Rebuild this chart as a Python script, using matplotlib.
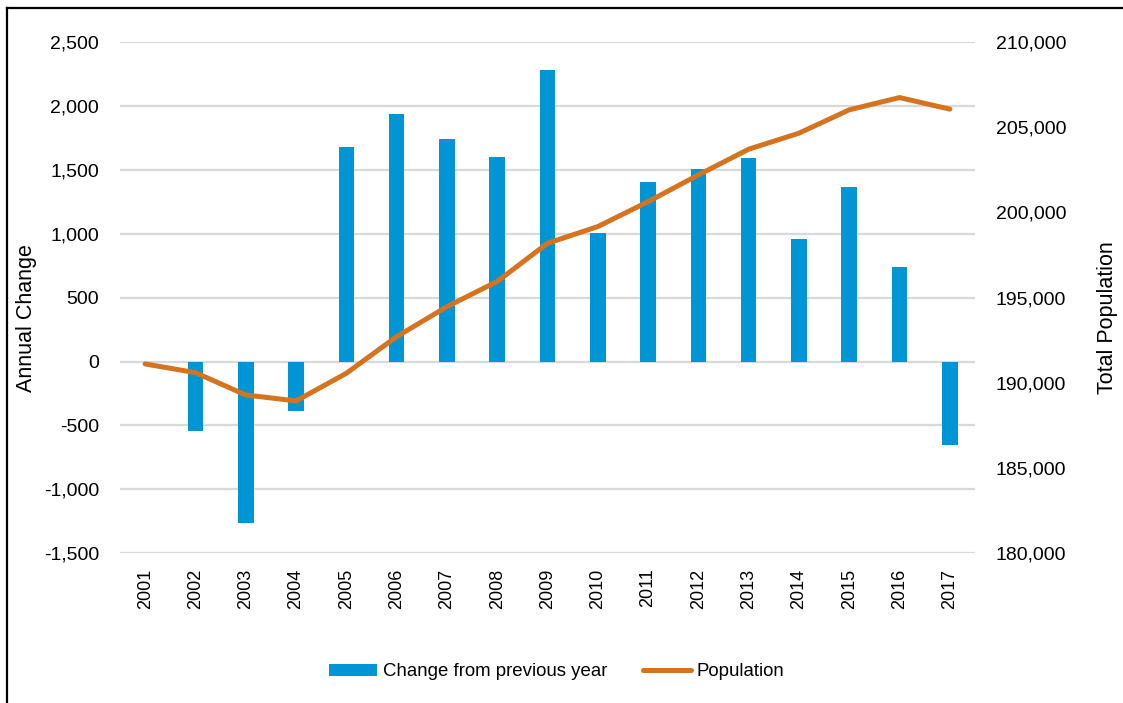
import matplotlib
matplotlib.use("Agg")
import matplotlib.pyplot as plt
from matplotlib.lines import Line2D
from matplotlib.ticker import FuncFormatter, MultipleLocator

plt.rcParams["font.family"] = ["Liberation Sans", "DejaVu Sans"]

# Data
years = ["2001", "2002", "2003", "2004", "2005", "2006", "2007", "2008", "2009",
         "2010", "2011", "2012", "2013", "2014", "2015", "2016", "2017"]
annual_change = [0, -540, -1260, -386, 1680, 1940, 1745, 1604, 2282,
                 1004, 1408, 1508, 1594, 962, 1369, 743, -649]
population = [191110, 190600, 189290, 188940, 190560, 192710, 194470, 195950, 198190,
              199170, 200630, 202200, 203710, 204650, 206020, 206740, 206060]

BAR_COLOR = "#0096D6"
LINE_COLOR = "#D5731F"
GRID_COLOR = "#D9D9D9"

W, H = 1123, 703
fig = plt.figure(figsize=(W / 100, H / 100), dpi=100)
fig.patch.set_facecolor("white")

left, right, bottom, top = 120, 975, 553.3, 42
ax = fig.add_axes([left / W, 1 - bottom / H, (right - left) / W, (bottom - top) / H])
ax2 = ax.twinx()

x = list(range(len(years)))

# Bars: annual change (left axis)
ax.bar(x, annual_change, width=0.31, color=BAR_COLOR, edgecolor="none", zorder=3)
ax.set_ylim(-1500, 2500)
ax.yaxis.set_major_locator(MultipleLocator(500))
ax.yaxis.set_major_formatter(FuncFormatter(lambda v, p: f"{v:,.0f}"))
ax.grid(axis="y", color=GRID_COLOR, linewidth=1.6, zorder=0)
ax.set_axisbelow(True)
ax.set_xlim(-0.5, len(years) - 0.5)
ax.set_xticks(x)
ax.set_xticklabels(years, rotation=90, fontsize=13)
ax.tick_params(axis="x", length=0, pad=11)
ax.tick_params(axis="y", length=0, pad=15, labelsize=14)
for s in ax.spines.values():
    s.set_visible(False)
ax.set_ylabel("Annual Change", fontsize=15.5)
ax.yaxis.set_label_coords(-0.097, 0.46)

# Line: total population (right axis)
ax2.plot(x, population, color=LINE_COLOR, linewidth=3.6,
         solid_capstyle="round", solid_joinstyle="round", zorder=4)
ax2.set_ylim(180000, 210000)
ax2.yaxis.set_major_locator(MultipleLocator(5000))
ax2.yaxis.set_major_formatter(FuncFormatter(lambda v, p: f"{v:,.0f}"))
ax2.tick_params(axis="y", length=0, pad=15, labelsize=14)
for s in ax2.spines.values():
    s.set_visible(False)
ax2.set_ylabel("Total Population", fontsize=15.5)
ax2.yaxis.set_label_coords(1.1427, 0.46)

# Legend
handles = [
    plt.Rectangle((0, 0), 1, 1, facecolor=BAR_COLOR, edgecolor="none"),
    Line2D([0], [0], color=LINE_COLOR, linewidth=3.6, solid_capstyle="round"),
]
fig.legend(handles, ["Change from previous year", "Population"],
           loc="center", bbox_to_anchor=(0.4956, 1 - 672 / H), ncol=2,
           frameon=False, fontsize=13.4, handlelength=2.6, handleheight=0.65,
           handletextpad=0.3, columnspacing=1.9)

# Outer frame (left and top edges)
fig.add_artist(Line2D([7 / W, 7 / W], [0, 1 - 8 / H], transform=fig.transFigure,
                      color="black", linewidth=1.6, solid_capstyle="projecting"))
fig.add_artist(Line2D([7 / W, 1], [1 - 8 / H, 1 - 8 / H], transform=fig.transFigure,
                      color="black", linewidth=1.6, solid_capstyle="projecting"))

fig.savefig("out.png", dpi=100)
